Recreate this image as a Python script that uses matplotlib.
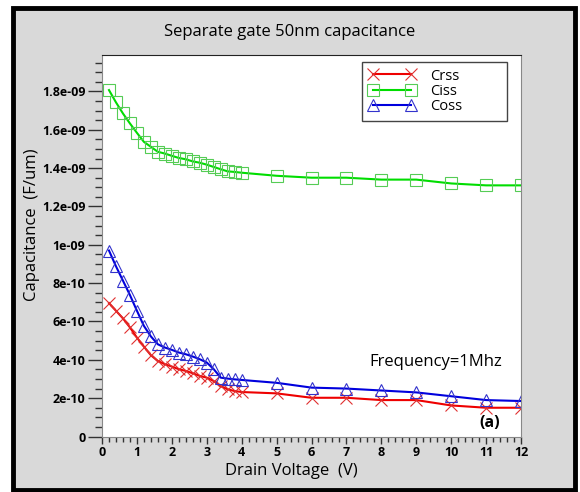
import matplotlib
matplotlib.use("Agg")
import matplotlib.pyplot as plt
from matplotlib.patches import Rectangle
from matplotlib.ticker import FuncFormatter, MultipleLocator

plt.rcParams['font.family'] = ['Open Sans', 'DejaVu Sans']

# drain voltage sweep (V)
voltage = [0.2, 0.4, 0.6, 0.8, 1.0, 1.2, 1.4, 1.6, 1.8, 2.0,
           2.2, 2.4, 2.6, 2.8, 3.0, 3.2, 3.4, 3.6, 3.8, 4.0,
           5, 6, 7, 8, 9, 10, 11, 12]

# capacitances in F/um
crss = [6.96e-10, 6.56e-10, 6.16e-10, 5.69e-10, 5.16e-10, 4.69e-10, 4.24e-10, 3.94e-10, 3.77e-10, 3.65e-10,
        3.51e-10, 3.42e-10, 3.30e-10, 3.16e-10, 3.07e-10, 2.89e-10, 2.63e-10, 2.46e-10, 2.37e-10, 2.32e-10,
        2.25e-10, 2.02e-10, 2.02e-10, 1.90e-10, 1.90e-10, 1.62e-10, 1.50e-10, 1.50e-10]
ciss = [1.807e-09, 1.743e-09, 1.685e-09, 1.633e-09, 1.584e-09, 1.537e-09, 1.511e-09, 1.485e-09, 1.476e-09, 1.464e-09,
        1.453e-09, 1.446e-09, 1.435e-09, 1.428e-09, 1.418e-09, 1.406e-09, 1.394e-09, 1.383e-09, 1.380e-09, 1.376e-09,
        1.360e-09, 1.350e-09, 1.350e-09, 1.340e-09, 1.340e-09, 1.320e-09, 1.310e-09, 1.310e-09]
coss = [9.70e-10, 8.88e-10, 8.13e-10, 7.38e-10, 6.56e-10, 5.77e-10, 5.22e-10, 4.81e-10, 4.64e-10, 4.52e-10,
        4.38e-10, 4.29e-10, 4.17e-10, 4.03e-10, 3.86e-10, 3.51e-10, 3.07e-10, 3.02e-10, 2.98e-10, 2.95e-10,
        2.80e-10, 2.55e-10, 2.50e-10, 2.40e-10, 2.30e-10, 2.10e-10, 1.90e-10, 1.85e-10]

W, H = 580, 492
fig = plt.figure(figsize=(W / 100, H / 100), dpi=100, facecolor='white')

# grey panel with black frame, kept behind the axes
fig.patches.append(Rectangle((13 / W, 1 - 490 / H), 562 / W, 482 / H,
                             transform=fig.transFigure, facecolor='#d9d9d9',
                             edgecolor='black', linewidth=3.5, zorder=-10))

ax = fig.add_axes([102 / W, 1 - 436.5 / H, 419 / W, 381.5 / H])
ax.set_zorder(5)
ax.set_facecolor('white')

ax.plot(voltage, crss, color='#ee0000', lw=1.5, marker='x', ms=8, mew=0.8,
        mec='#e03030', label='Crss')
ax.plot(voltage, ciss, color='#00dd00', lw=1.5, marker='s', ms=8, mew=0.8,
        mfc='none', mec='#55cc55', label='Ciss')
ax.plot(voltage, coss, color='#0000dd', lw=1.5, marker='^', ms=8, mew=0.8,
        mfc='none', mec='#3333cc', label='Coss')

ax.set_xlim(0, 12)
ax.set_ylim(0, 1.99e-9)
ax.xaxis.set_major_locator(MultipleLocator(1))
ax.xaxis.set_minor_locator(MultipleLocator(0.2))
ax.yaxis.set_major_locator(MultipleLocator(2e-10))
ax.yaxis.set_minor_locator(MultipleLocator(5e-11))
ax.yaxis.set_major_formatter(FuncFormatter(lambda v, p: '%g' % v))

ax.tick_params(axis='y', which='major', length=10, width=1, color='#333333', pad=2)
ax.tick_params(axis='y', which='minor', length=5, width=1, color='#333333')
ax.tick_params(axis='x', which='major', length=5, width=1, color='#333333', pad=2)
ax.tick_params(axis='x', which='minor', length=3.5, width=1, color='#333333')
for lab in ax.get_xticklabels() + ax.get_yticklabels():
    lab.set_fontweight('bold')
    lab.set_fontsize(9)

for side in ['left', 'bottom', 'right']:
    ax.spines[side].set_color('#888888')
ax.spines['top'].set_color('#222222')

ax.set_xlabel('Drain Voltage  (V)', fontsize=12)
ax.xaxis.set_label_coords(0.453, -0.07)
ax.set_ylabel('Capacitance  (F/um)', fontsize=12)
ax.yaxis.set_label_coords(-0.148, 0.554)
fig.text(0.5, 1 - 32 / H, 'Separate gate 50nm capacitance', ha='center',
         va='center', fontsize=12)

ax.text(9.57, 3.9e-10, 'Frequency=1Mhz', ha='center', va='center', fontsize=12)
ax.text(11.1, 0.7e-10, '(a)', ha='center', va='center', fontsize=11.5,
        fontweight='bold')

leg = ax.legend(loc='upper left',
                bbox_to_anchor=(362 / W, 1 - 120 / H, 145 / W, 58 / H),
                bbox_transform=fig.transFigure, mode='expand', numpoints=2,
                fontsize=10.5, fancybox=False, edgecolor='#444444', framealpha=1,
                handlelength=3.2, labelspacing=0.02, borderpad=0.45,
                handletextpad=1.0, borderaxespad=0)
leg.get_frame().set_linewidth(1)

fig.savefig('out.png', dpi=100, facecolor='white')
